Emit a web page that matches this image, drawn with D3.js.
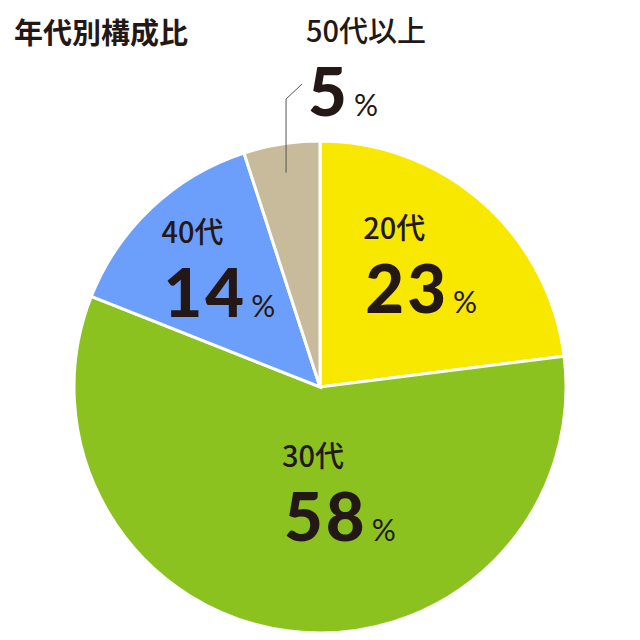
<!DOCTYPE html>
<html>
<head>
<meta charset="utf-8">
<script src="https://cdn.jsdelivr.net/npm/d3@7"></script>
<style>
  body { margin: 0; background: #fff; }
  text { font-family: "Noto Sans CJK JP", "Noto Sans", sans-serif; fill: #231815; }
  .num { font-family: Lato, "Noto Sans CJK JP", sans-serif; }
</style>
</head>
<body>
<div id="chart"></div>
<script>
const categories = ["20代", "30代", "40代", "50代以上"];
const shares = [23, 58, 14, 5];
const colors = ["#f8e800", "#8cc220", "#6c9ffb", "#c8bb9c"];
const title = "年代別構成比";

const width = 640;
const height = 640;
const cx = 320;
const cy = 387;
const radius = 246;

const svg = d3.select("#chart")
  .append("svg")
  .attr("width", width)
  .attr("height", height);

svg.append("text")
  .attr("x", 14)
  .attr("y", 44)
  .attr("font-size", 29)
  .attr("font-weight", 700)
  .text(title);

const data = categories.map((c, i) => ({ name: c, value: shares[i], color: colors[i] }));

const pie = d3.pie().sort(null).value((d) => d.value);
const arcs = pie(data);

const arc = d3.arc().innerRadius(0).outerRadius(radius);

const g = svg.append("g").attr("transform", `translate(${cx},${cy})`);

g.selectAll("path")
  .data(arcs)
  .join("path")
  .attr("d", arc)
  .attr("fill", (d) => d.data.color)
  .attr("stroke", "#fff")
  .attr("stroke-width", 3)
  .attr("stroke-linejoin", "miter");

// where a label sits: angle on the circle and distance from centre
function labelPoint(d, i) {
  const mid = (d.startAngle + d.endAngle) / 2;
  let a = mid;
  let r = 150;
  if (i === 1) { a = mid - 0.28; r = 116; } // big slice: label nearer the middle
  return [Math.sin(a) * r, -Math.cos(a) * r];
}

// category line above, big number + % below
function label(parent, d, x, catY, numY) {
  const cat = parent.append("text")
    .attr("x", x - 2)
    .attr("y", catY)
    .attr("font-size", 29)
    .attr("font-weight", 500)
    .text(d.data.name);
  const t = parent.append("text")
    .attr("class", "num")
    .attr("x", x)
    .attr("y", numY);
  t.append("tspan")
    .attr("font-size", 67)
    .attr("font-weight", 900)
    .attr("letter-spacing", 3)
    .text(d.data.value);
  t.append("tspan")
    .attr("dx", 4)
    .attr("font-size", 30)
    .attr("font-weight", 400)
    .text("%");
  return { cat, t };
}

arcs.forEach((d, i) => {
  if (i === 3) return;
  const [x, y] = labelPoint(d, i);
  const lg = g.append("g").attr("transform", `translate(${x},${y})`);
  const l = label(lg, d, 0, -35, 39);
  // centre the number line on the label point
  const w = l.t.node().getComputedTextLength();
  l.cat.attr("x", -w / 2 - 2);
  l.t.attr("x", -w / 2);
});

// small slice: label outside with a leader line
const small = arcs[3];
const smid = (small.startAngle + small.endAngle) / 2;
const inner = [Math.sin(smid) * 217, -Math.cos(smid) * 217];
const elbow = [inner[0], 99 - cy];
const tip = [elbow[0] + 16, elbow[1] - 15];
g.append("path")
  .attr("d", d3.line()([inner, elbow, tip]))
  .attr("fill", "none")
  .attr("stroke", "#555")
  .attr("stroke-width", 1);

label(g, small, tip[0] + 6, 42 - cy, 116 - cy);
</script>
</body>
</html>
